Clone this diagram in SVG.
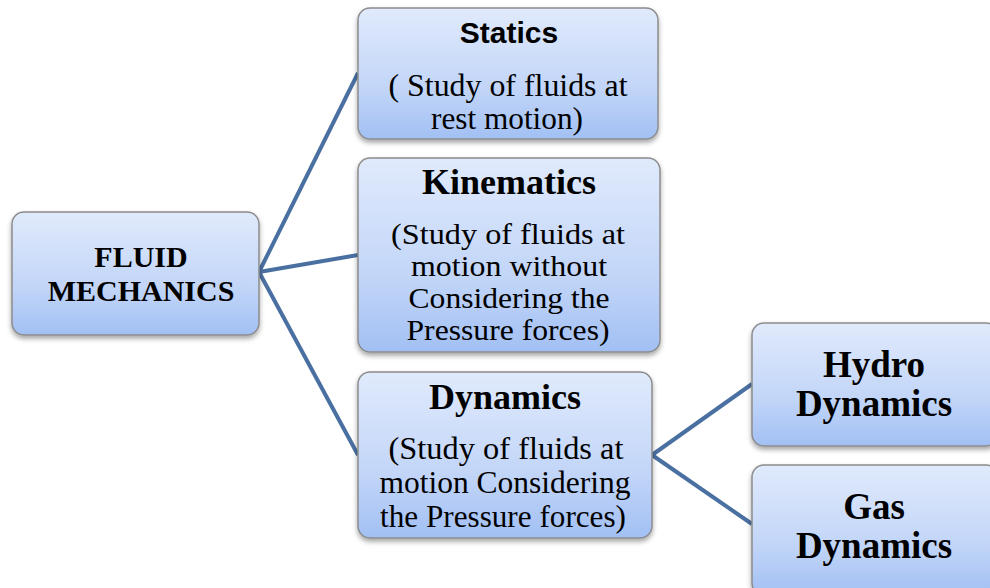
<svg xmlns="http://www.w3.org/2000/svg" width="990" height="588" viewBox="0 0 990 588">
<defs>
<linearGradient id="g" x1="0" y1="0" x2="0" y2="1">
<stop offset="0" stop-color="#e0eafc"/>
<stop offset="0.6" stop-color="#c3d6f8"/>
<stop offset="1" stop-color="#a2c0f4"/>
</linearGradient>
<filter id="sh" x="-10%" y="-10%" width="120%" height="130%">
<feDropShadow dx="0" dy="3" stdDeviation="2.5" flood-color="#000" flood-opacity="0.35"/>
</filter>
</defs>
<style>
.box{fill:url(#g);stroke:#8c8c8c;stroke-width:1.5;filter:url(#sh)}
.t{font-family:"Liberation Serif","Times New Roman",serif;text-anchor:middle;fill:#000}
.b{font-weight:bold}
.s{font-family:"Liberation Sans",Arial,sans-serif;font-weight:bold;text-anchor:middle;fill:#000}
.c{stroke:#4a70a2;stroke-width:4;fill:none}
</style>
<g id="connectors">
<line class="c" x1="259" y1="272" x2="358" y2="73"/>
<line class="c" x1="259" y1="272" x2="358" y2="255"/>
<line class="c" x1="259" y1="272" x2="358" y2="455"/>
<line class="c" x1="652" y1="455" x2="752" y2="384"/>
<line class="c" x1="652" y1="455" x2="752" y2="524"/>
</g>
<g id="fluid">
<rect class="box" x="12" y="212" width="247" height="123" rx="12"/>
<text class="t b" x="141" y="267" font-size="30">FLUID</text>
<text class="t b" x="141" y="301" font-size="30">MECHANICS</text>
</g>
<g id="statics">
<rect class="box" x="358" y="8" width="300" height="131" rx="12"/>
<text class="s" x="509" y="43" font-size="30">Statics</text>
<text class="t" x="508" y="96" font-size="31" textLength="239" lengthAdjust="spacingAndGlyphs">( Study of fluids  at</text>
<text class="t" x="507" y="129" font-size="31" textLength="152" lengthAdjust="spacingAndGlyphs">rest motion)</text>
</g>
<g id="kinematics">
<rect class="box" x="358" y="158" width="302" height="194" rx="12"/>
<text class="t b" x="509" y="194" font-size="36">Kinematics</text>
<text class="t" x="508" y="244" font-size="29.5" textLength="234" lengthAdjust="spacingAndGlyphs">(Study of fluids  at</text>
<text class="t" x="509" y="276" font-size="29.5" textLength="196" lengthAdjust="spacingAndGlyphs">motion without</text>
<text class="t" x="509" y="308" font-size="29.5" textLength="201" lengthAdjust="spacingAndGlyphs">Considering  the</text>
<text class="t" x="508" y="340" font-size="29.5" textLength="203" lengthAdjust="spacingAndGlyphs">Pressure forces)</text>
</g>
<g id="dynamics">
<rect class="box" x="358" y="372" width="294" height="166" rx="12"/>
<text class="t b" x="505" y="409" font-size="36">Dynamics</text>
<text class="t" x="506" y="459" font-size="31" textLength="235" lengthAdjust="spacingAndGlyphs">(Study of fluids  at</text>
<text class="t" x="505" y="493" font-size="31" textLength="251" lengthAdjust="spacingAndGlyphs">motion Considering</text>
<text class="t" x="503" y="527" font-size="31" textLength="246" lengthAdjust="spacingAndGlyphs">the Pressure forces)</text>
</g>
<g id="hydro">
<rect class="box" x="752" y="323" width="246" height="123" rx="12"/>
<text class="t b" x="874" y="377" font-size="37">Hydro</text>
<text class="t b" x="874" y="416" font-size="37">Dynamics</text>
</g>
<g id="gas">
<rect class="box" x="752" y="465" width="246" height="130" rx="12"/>
<text class="t b" x="874" y="519" font-size="37">Gas</text>
<text class="t b" x="874" y="558" font-size="37">Dynamics</text>
</g>
</svg>
